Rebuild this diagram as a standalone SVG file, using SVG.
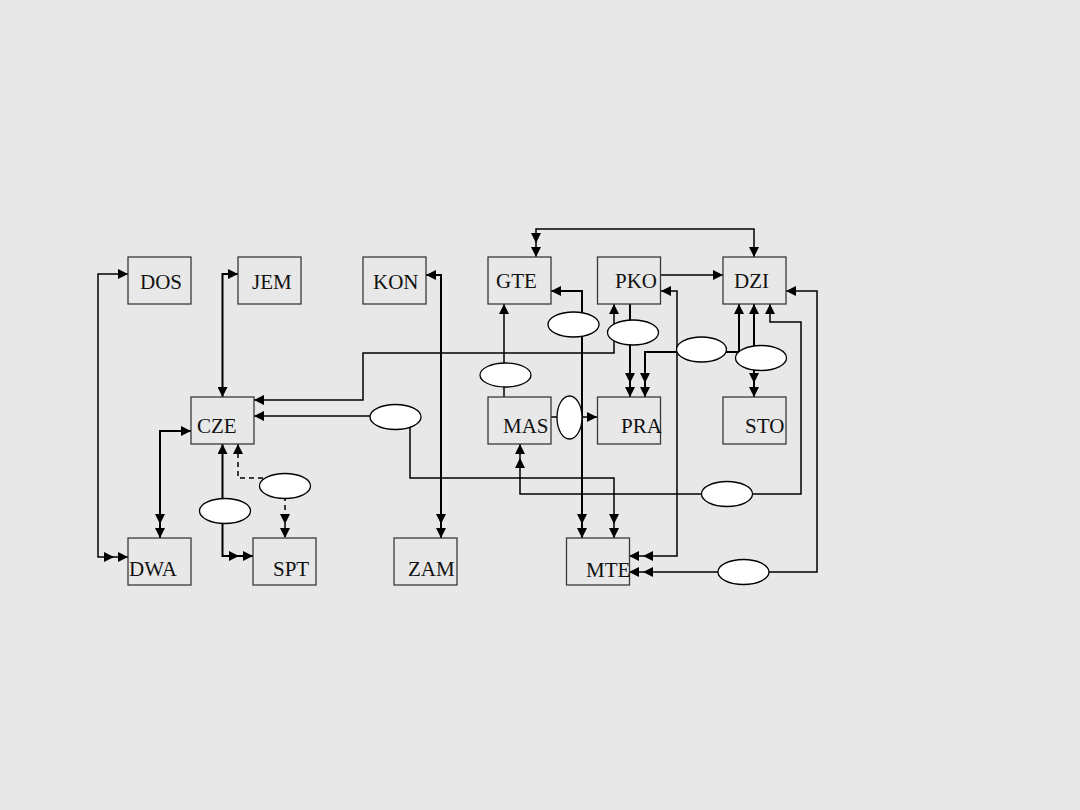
<svg xmlns="http://www.w3.org/2000/svg" width="1080" height="810" viewBox="0 0 1080 810">
<style>
.box{fill:#e8e8e8;stroke:#3a3a3a;stroke-width:1.3}
.lbl{font-family:"Liberation Serif","Times New Roman",serif;font-size:21px;fill:#111}
.c{fill:none;stroke:#000;stroke-width:1.5}
.t{stroke-width:2}
.d{stroke-dasharray:5,4}
.el{fill:#fff;stroke:#000;stroke-width:1.3}
</style>
<defs>
<marker id="a1" viewBox="-10 -5 10 10" refX="0" refY="0" markerWidth="10" markerHeight="10" markerUnits="userSpaceOnUse" orient="auto-start-reverse"><path d="M0,0 L-10,-5 L-10,5 Z" fill="#000"/></marker>
<marker id="a2" viewBox="-24 -5 24 10" refX="0" refY="0" markerWidth="24" markerHeight="10" markerUnits="userSpaceOnUse" orient="auto-start-reverse"><path d="M0,0 L-10,-5 L-10,5 Z M-14,0 L-24,-5 L-24,5 Z" fill="#000"/></marker>
</defs>
<rect width="1080" height="810" fill="#e8e8e8"/>
<g id="connectors">
<path class="c" d="M128,274 H98 V557 H128" marker-start="url(#a1)" marker-end="url(#a2)"/>
<path class="c t" d="M238,274 H222.5 V397" marker-start="url(#a1)" marker-end="url(#a1)"/>
<path class="c t" d="M426,275 H441 V538" marker-start="url(#a1)" marker-end="url(#a2)"/>
<path class="c" d="M536,257 V229 H754 V257" marker-start="url(#a2)" marker-end="url(#a1)"/>
<path class="c" d="M661,275 H723" marker-end="url(#a1)"/>
<path class="c t" d="M551,291 H582 V538" marker-start="url(#a1)" marker-end="url(#a2)"/>
<path class="c" d="M614,304 V353 H363 V400 H254" marker-start="url(#a1)" marker-end="url(#a1)"/>
<path class="c" d="M254,416 H410 V478 H614 V538" marker-start="url(#a1)" marker-end="url(#a2)"/>
<path class="c" d="M770,304 V322 H801 V494 H520 V444" marker-start="url(#a1)" marker-end="url(#a2)"/>
<path class="c" d="M786,291 H817 V572 H629" marker-start="url(#a1)" marker-end="url(#a2)"/>
<path class="c" d="M661,291 H677 V556 H629" marker-start="url(#a1)" marker-end="url(#a2)"/>
<path class="c" d="M551,417 H597" marker-end="url(#a1)"/>
<path class="c" d="M504,397 V304" marker-end="url(#a1)"/>
<path class="c t" d="M630,304 V397" marker-end="url(#a2)"/>
<path class="c t" d="M739,304 V352 H645 V397" marker-start="url(#a1)" marker-end="url(#a2)"/>
<path class="c t" d="M754,304 V397" marker-start="url(#a1)" marker-end="url(#a2)"/>
<path class="c t" d="M191,431 H160 V538" marker-start="url(#a1)" marker-end="url(#a2)"/>
<path class="c t" d="M222.5,444 V556 H253" marker-start="url(#a1)" marker-end="url(#a2)"/>
<path class="c d" d="M238,444 V478 H285 V538" marker-start="url(#a1)" marker-end="url(#a2)"/>
</g>
<g id="labels">
<ellipse class="el" cx="573.5" cy="324.5" rx="25.5" ry="12.5"/>
<ellipse class="el" cx="633" cy="332.5" rx="25.5" ry="12.5"/>
<ellipse class="el" cx="701.5" cy="349.5" rx="25" ry="12.5"/>
<ellipse class="el" cx="761" cy="358" rx="25.5" ry="12.5"/>
<ellipse class="el" cx="505.5" cy="375" rx="25.5" ry="12"/>
<ellipse class="el" cx="395.5" cy="417" rx="25.5" ry="12.5"/>
<ellipse class="el" cx="569.5" cy="417.5" rx="12.5" ry="21.5"/>
<ellipse class="el" cx="285" cy="486" rx="25.5" ry="12.5"/>
<ellipse class="el" cx="225" cy="511" rx="25.5" ry="12.5"/>
<ellipse class="el" cx="727" cy="494" rx="25.5" ry="12.5"/>
<ellipse class="el" cx="743.5" cy="572" rx="25.5" ry="12.5"/>
</g>
<g id="DOS"><rect class="box" x="128" y="257" width="63" height="47"/><text class="lbl" x="140" y="289">DOS</text></g>
<g id="JEM"><rect class="box" x="238" y="257" width="63" height="47"/><text class="lbl" x="252" y="289">JEM</text></g>
<g id="KON"><rect class="box" x="363" y="257" width="63" height="47"/><text class="lbl" x="373" y="289">KON</text></g>
<g id="GTE"><rect class="box" x="488" y="257" width="63" height="47"/><text class="lbl" x="496" y="288">GTE</text></g>
<g id="PKO"><rect class="box" x="597.5" y="257" width="63" height="47"/><text class="lbl" x="615" y="288">PKO</text></g>
<g id="DZI"><rect class="box" x="723" y="257" width="63" height="47"/><text class="lbl" x="734" y="288">DZI</text></g>
<g id="CZE"><rect class="box" x="191" y="397" width="63" height="47"/><text class="lbl" x="197" y="433">CZE</text></g>
<g id="MAS"><rect class="box" x="488" y="397" width="63" height="47"/><text class="lbl" x="503" y="433">MAS</text></g>
<g id="PRA"><rect class="box" x="597.5" y="397" width="63" height="47"/><text class="lbl" x="621" y="433">PRA</text></g>
<g id="STO"><rect class="box" x="723" y="397" width="63" height="47"/><text class="lbl" x="745" y="433">STO</text></g>
<g id="DWA"><rect class="box" x="128" y="538" width="63" height="47"/><text class="lbl" x="129" y="576">DWA</text></g>
<g id="SPT"><rect class="box" x="253" y="538" width="63" height="47"/><text class="lbl" x="273" y="576">SPT</text></g>
<g id="ZAM"><rect class="box" x="394" y="538" width="63" height="47"/><text class="lbl" x="408" y="576">ZAM</text></g>
<g id="MTE"><rect class="box" x="566.5" y="538" width="63" height="47"/><text class="lbl" x="586" y="577">MTE</text></g>
</svg>
